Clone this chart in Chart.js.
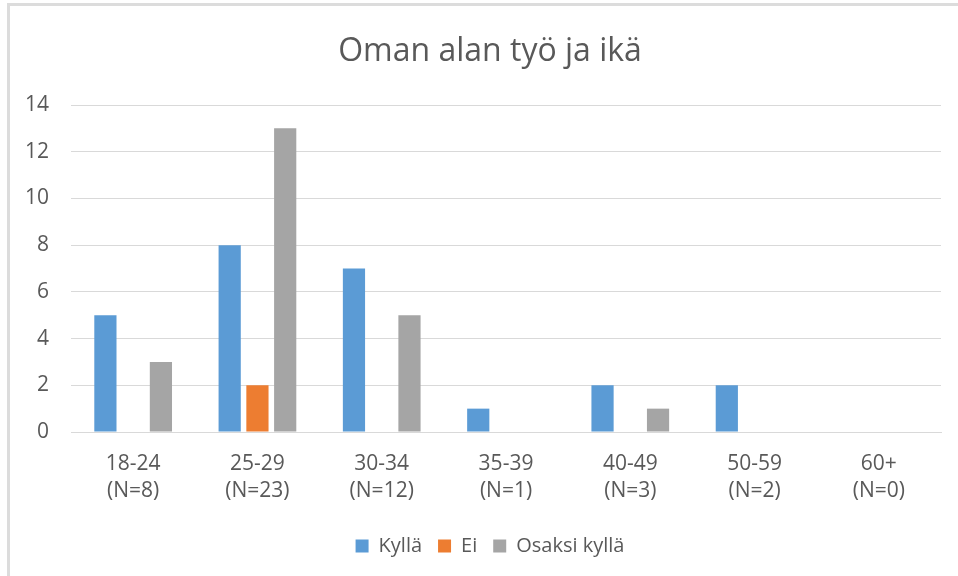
<!DOCTYPE html>
<html>
<head>
<meta charset="utf-8">
<script src="https://cdn.jsdelivr.net/npm/chart.js@4/dist/chart.umd.min.js"></script>
<style>
  html, body { margin: 0; padding: 0; background: #fff; overflow: hidden; }
  #wrap { position: relative; width: 958px; height: 576px; overflow: hidden; }
  #ftop { position: absolute; left: 7px; top: 3px; width: 951px; height: 3px; background: #dcdcdc; }
  #fleft { position: absolute; left: 7px; top: 3px; width: 3px; height: 573px; background: #dcdcdc; }
  canvas { position: absolute; left: 0; top: 0; }
</style>
</head>
<body>
<div id="wrap">
  <canvas id="c" width="980" height="576"></canvas>
  <div id="ftop"></div>
  <div id="fleft"></div>
</div>
<script>
const categories = [["18-24", "(N=8)"], ["25-29", "(N=23)"], ["30-34", "(N=12)"], ["35-39", "(N=1)"], ["40-49", "(N=3)"], ["50-59", "(N=2)"], ["60+", "(N=0)"]];
const kylla = [5, 8, 7, 1, 2, 2, 0];
const ei = [0, 2, 0, 0, 0, 0, 0];
const osaksiKylla = [3, 13, 5, 0, 1, 0, 0];
const seriesNames = ["Kyllä", "Ei", "Osaksi kyllä"];
const chartTitle = "Oman alan työ ja ikä";

const fontFam = "'Open Sans', 'Liberation Sans', sans-serif";
new Chart(document.getElementById('c'), {
  type: 'bar',
  data: {
    labels: categories,
    datasets: [
      { label: seriesNames[0], data: kylla, backgroundColor: '#5b9bd5', yAxisID: 'y' },
      { label: seriesNames[1], data: ei, backgroundColor: '#ed7d31', yAxisID: 'y' },
      { label: seriesNames[2], data: osaksiKylla, backgroundColor: '#a5a5a5', yAxisID: 'y' }
    ]
  },
  options: {
    responsive: false,
    animation: false,
    layout: { padding: { left: 3, right: 3, top: 0, bottom: 10 } },
    datasets: { bar: { categoryPercentage: 0.67, barPercentage: 0.8 } },
    plugins: {
      title: {
        display: true, text: chartTitle, color: '#595959',
        font: { family: fontFam, size: 32, weight: 'normal', lineHeight: 1.2 },
        padding: { top: 33, bottom: 33.6 }
      },
      legend: {
        position: 'bottom',
        labels: {
          color: '#595959', font: { family: fontFam, size: 20 },
          boxWidth: 13, boxHeight: 13, padding: 16
        }
      },
      tooltip: { enabled: false }
    },
    scales: {
      x: {
        grid: { display: false, drawTicks: false },
        border: { color: '#d9d9d9', width: 1 },
        ticks: { color: '#595959', font: { family: fontFam, size: 21, lineHeight: 1.29 }, padding: 18.5 },
        afterFit: (s) => { s.height = 88; }
      },
      y: {
        position: 'left',
        min: 0, max: 14,
        grid: { color: '#d9d9d9', drawTicks: false },
        border: { display: false },
        ticks: { stepSize: 2, color: '#595959', font: { family: fontFam, size: 21 }, padding: 22 }
      },
      yPad: {
        type: 'linear', position: 'right', min: 0, max: 1,
        grid: { display: false, drawTicks: false },
        border: { display: false },
        ticks: { display: false },
        afterFit: (s) => { s.width = 36; }
      }
    }
  }
});
</script>
</body>
</html>
